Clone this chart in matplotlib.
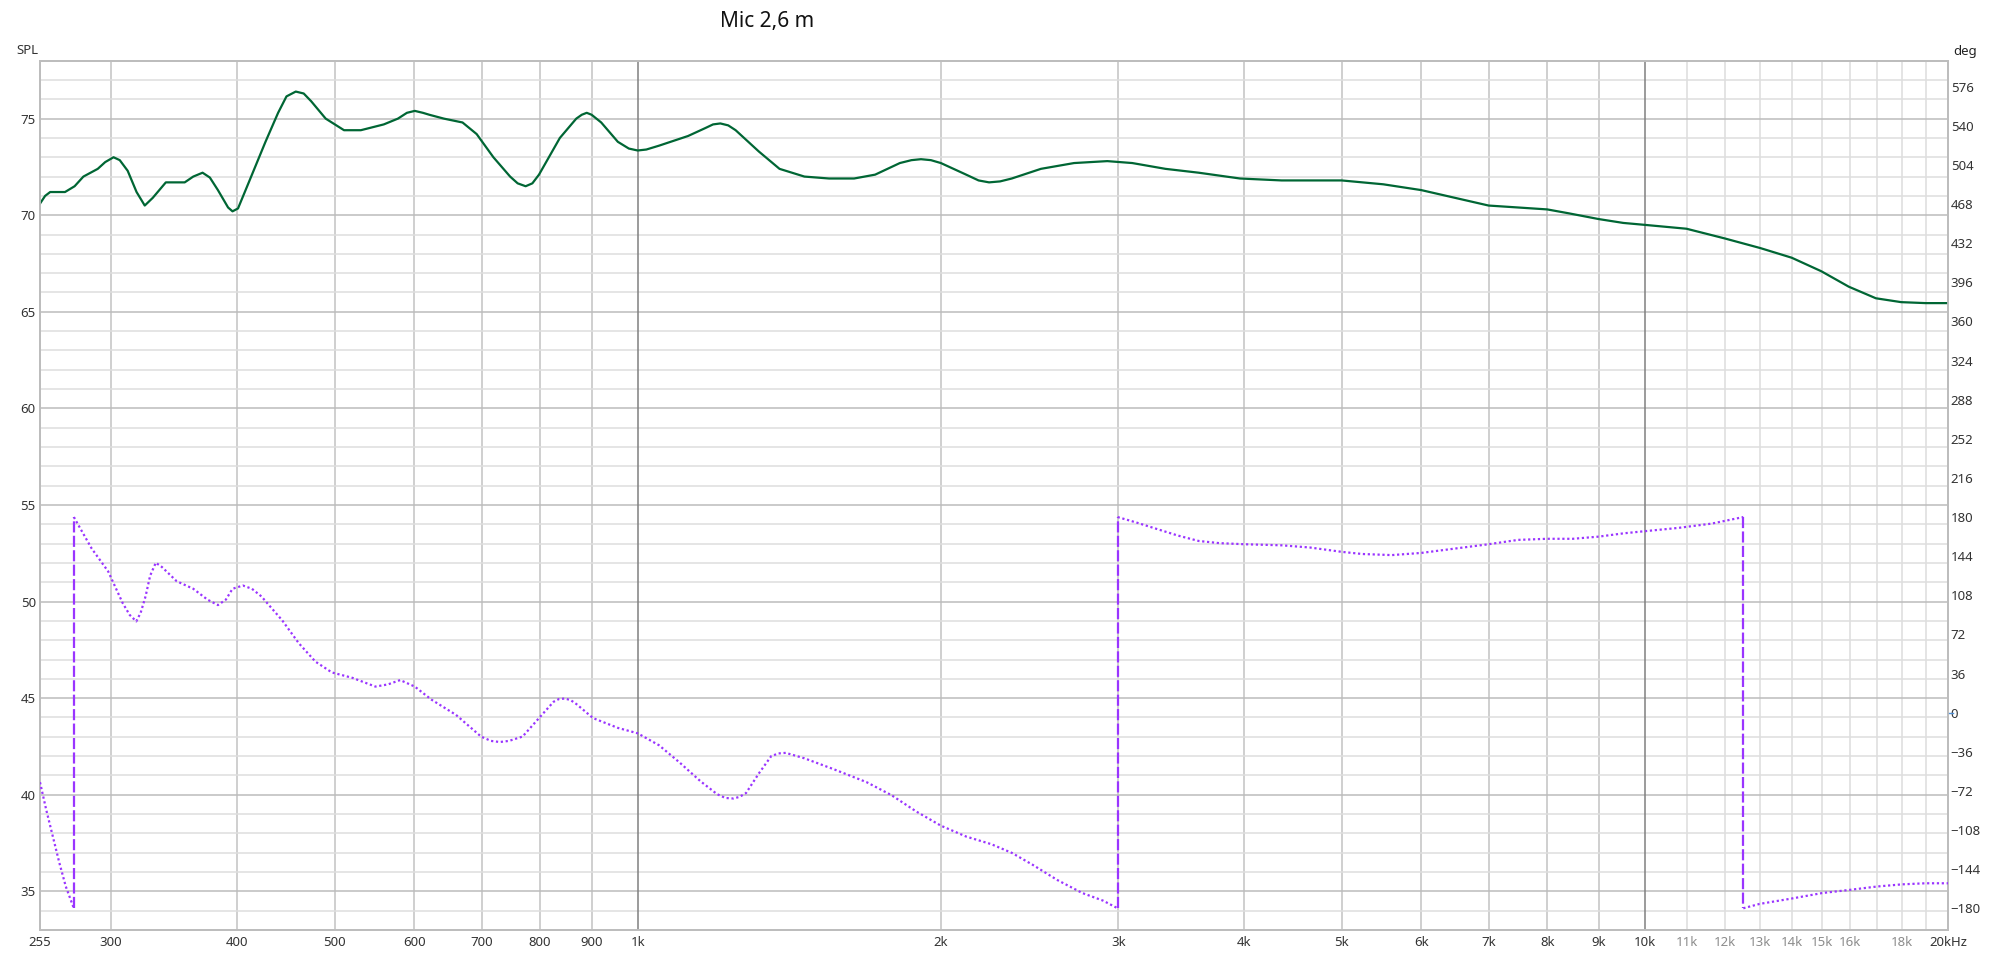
#!/usr/bin/env python3
"""
Mic 2,6 m - SPL and phase response, REW style.
"""

import numpy as np
import matplotlib
matplotlib.use("Agg")
import matplotlib.pyplot as plt
from matplotlib.ticker import MultipleLocator, FixedLocator, NullFormatter
from matplotlib.lines import Line2D
import matplotlib.transforms as mtransforms

# SPL curve (left axis, dB)
spl_freq = [255, 258, 261, 270, 276, 281.6, 291, 296, 301.7, 306, 311.6,
            318, 324, 330, 340, 345, 355, 362, 369.8, 376, 383, 392, 396,
            401, 411, 427, 439.5, 448, 457.6, 466, 474, 490,
            511, 531, 559.6, 578, 590, 600.7, 612, 621, 642, 670, 692, 719,
            747, 760, 774, 786, 798, 837, 869, 880, 890, 900, 920, 955.6,
            980, 1000, 1020, 1050,
            1122, 1166, 1188, 1208, 1230, 1251, 1319, 1383, 1464, 1549, 1640,
            1721, 1821, 1870, 1911, 1955, 2000, 2119, 2180, 2233, 2290, 2352,
            2514, 2712, 2926, 3098,
            3342, 3606, 3964, 4359, 4649, 5000, 5499, 5998, 6478, 6997,
            7484, 8000, 8400, 9000, 9521, 10000, 11000, 12000, 13020, 13990,
            14970, 15940, 16960, 17970, 19000, 20000]
spl_db = [70.6, 71.0, 71.2, 71.2, 71.5, 72.0, 72.4, 72.75, 73.0, 72.85, 72.3,
          71.2, 70.5, 70.9, 71.7, 71.7, 71.7, 72.0, 72.2, 71.95, 71.3, 70.4, 70.2,
          70.35, 71.7, 73.8, 75.3, 76.15, 76.4, 76.3, 75.9, 75.0,
          74.4, 74.4, 74.7, 75.0, 75.3, 75.4, 75.3, 75.2, 75.0, 74.8, 74.2, 73.0,
          72.0, 71.65, 71.5, 71.65, 72.1, 74.0, 75.0, 75.2, 75.3, 75.2, 74.8, 73.8,
          73.45, 73.35, 73.4, 73.6,
          74.1, 74.5, 74.7, 74.75, 74.65, 74.4, 73.3, 72.4, 72.0, 71.9, 71.9,
          72.1, 72.7, 72.85, 72.9, 72.85, 72.7, 72.1, 71.8, 71.7, 71.75, 71.9,
          72.4, 72.7, 72.8, 72.7,
          72.4, 72.2, 71.9, 71.8, 71.8, 71.8, 71.6, 71.3, 70.9, 70.5,
          70.4, 70.3, 70.1, 69.8, 69.6, 69.5, 69.3, 68.8, 68.3, 67.8,
          67.1, 66.3, 65.7, 65.5, 65.45, 65.45]

# phase curve (right axis, deg), wrapped at +/-180
phase_freq = [255, 258.6, 262.6, 266.5, 270.5, 275.5,
              275.5, 287, 298, 308, 313, 317.8, 321, 324.6, 328, 332.3, 337,
              348.5, 362, 374, 383, 390, 396, 405.5, 414, 423, 443.6, 460.7,
              478.6, 497, 521, 549, 565, 581, 600.7, 624, 660, 699, 715,
              729.6, 745, 768.6, 798, 825, 835, 846.8, 858, 869, 903, 955.6,
              1000, 1050, 1101, 1154, 1199, 1222, 1245, 1262, 1281, 1319,
              1357, 1380, 1403, 1464, 1565, 1688, 1787, 1891, 2000, 2119,
              2244, 2352, 2467, 2610, 2764, 2898, 2996,
              2996, 3127, 3278, 3438, 3606, 3781, 4003, 4359, 4649, 5000,
              5242, 5607, 5998, 6478, 6997, 7484, 8000, 8483, 9000, 9521,
              10000, 10790, 11655, 12525,
              12525, 13000, 14000, 15000, 16000, 17000, 18000, 19000, 20000]
phase_deg = [-64, -89, -114, -138, -160, -180,
             180, 151, 130, 101, 90, 84, 92, 107, 126, 138, 134,
             121, 114, 104, 99, 104, 114, 117, 114, 107, 85, 64,
             47, 37, 32, 24, 26, 30, 24, 12, -2, -22, -26,
             -27, -26, -22, -5, 10, 12.5, 13, 11.5, 8, -5, -14,
             -19, -30, -46, -63, -75, -78.5, -79, -77.5, -74, -56,
             -40, -37.5, -37, -42, -52, -64, -76, -91, -104, -114,
             -121, -129, -140, -154, -166, -173, -180,
             180, 175, 169, 163, 158, 156, 155, 154, 152, 148,
             146, 145, 147, 151, 155, 159, 160, 160, 162, 165,
             167, 170, 174, 180,
             -180, -176, -171, -166, -163, -160, -158, -157, -157]

# x axis labels and grid
xtick_pos = [255, 300, 400, 500, 600, 700, 800, 900, 1000, 2000, 3000, 4000,
             5000, 6000, 7000, 8000, 9000, 10000, 11000, 12000, 13000, 14000,
             15000, 16000, 18000, 20000]
xtick_lab = ["255", "300", "400", "500", "600", "700", "800", "900", "1k",
             "2k", "3k", "4k", "5k", "6k", "7k", "8k", "9k", "10k", "11k",
             "12k", "13k", "14k", "15k", "16k", "18k", "20kHz"]
xgrid_main = [300, 400, 500, 600, 700, 800, 900, 2000, 3000, 4000, 5000,
              6000, 7000, 8000, 9000]
xgrid_dark = [1000, 10000]
xgrid_light = [11000, 12000, 13000, 14000, 15000, 16000, 17000, 18000, 19000]

spl_ticks = [35, 40, 45, 50, 55, 60, 65, 70, 75]
deg_ticks = list(range(-180, 577, 36))

GREEN = "#006634"
PURPLE = "#9a35ff"
TXT = "#333333"
LBL_FONT = ["Liberation Sans Narrow", "Noto Sans", "DejaVu Sans"]


def main():
    fig = plt.figure(figsize=(20, 9.55), dpi=100)
    ax = fig.add_axes([0.02, 0.02618, 0.954, 0.9103])
    ax.set_xscale("log")
    ax.set_xlim(255, 20000)
    ax.set_ylim(33, 78)

    # grid
    ax.yaxis.set_major_locator(FixedLocator(spl_ticks))
    ax.yaxis.set_minor_locator(MultipleLocator(1))
    ax.yaxis.set_minor_formatter(NullFormatter())
    ax.grid(which="major", axis="y", color="#bcbcbc", lw=1.1, zorder=0)
    ax.grid(which="minor", axis="y", color="#dedede", lw=1.1, zorder=0)
    for f in xgrid_main:
        ax.axvline(f, color="#c2c2c2", lw=1.1, zorder=0.5)
    for f in xgrid_light:
        ax.axvline(f, color="#dcdcdc", lw=1.1, zorder=0.5)
    for f in xgrid_dark:
        ax.axvline(f, color="#808080", lw=1.1, zorder=0.6)
    ax.set_axisbelow(True)

    ax.xaxis.set_major_locator(FixedLocator(xtick_pos))
    ax.xaxis.set_minor_locator(FixedLocator([]))
    ax.set_xticklabels(xtick_lab)
    ax.tick_params(axis="both", which="both", length=0, labelsize=9.5,
                   labelcolor=TXT)
    ax.tick_params(axis="x", pad=4)
    ax.tick_params(axis="y", pad=3)
    for lab in ax.get_xticklabels():
        lab.set_family(LBL_FONT)
        if lab.get_text() in ("11k", "12k", "13k", "14k", "15k", "16k", "18k"):
            lab.set_color("#8c8c8c")
    for lab in ax.get_yticklabels():
        lab.set_family(LBL_FONT)

    # SPL
    ax.plot(spl_freq, spl_db, color=GREEN, lw=1.6, zorder=3,
            solid_joinstyle="round")

    # phase on the right axis
    ax2 = ax.twinx()
    ax2.set_ylim(-200, 600)
    ax2.yaxis.set_major_locator(FixedLocator(deg_ticks))
    ax2.tick_params(axis="y", length=0, labelsize=9.5, labelcolor=TXT, pad=2)
    for lab in ax2.get_yticklabels():
        lab.set_family(LBL_FONT)

    pf = np.array(phase_freq, dtype=float)
    pd_ = np.array(phase_deg, dtype=float)
    breaks = np.where(np.abs(np.diff(pd_)) > 300)[0] + 1
    start = 0
    for b in list(breaks) + [len(pf)]:
        ax2.plot(pf[start:b], pd_[start:b], color=PURPLE, lw=1.6,
                 linestyle=(0, (1, 1.2)), zorder=3)
        if b < len(pf):
            ax2.plot([pf[b - 1], pf[b]], [pd_[b - 1], pd_[b]], color=PURPLE,
                     lw=1.6, linestyle=(0, (5, 1.5)), zorder=3)
        start = b

    # small blue tick at 0 deg
    trans = mtransforms.blended_transform_factory(ax2.transAxes, ax2.transData)
    ax2.add_line(Line2D([1.0, 1.0025], [0, 0], transform=trans,
                        color="#4f8fd6", lw=1, clip_on=False))

    for a in (ax, ax2):
        for s in a.spines.values():
            s.set_color("#bdbdbd")
            s.set_linewidth(1.3)

    fig.text(16 / 2000, 1 - 51 / 955, "SPL", fontsize=9.5, color=TXT,
             va="center", ha="left", family=LBL_FONT)
    fig.text(1953 / 2000, 1 - 51 / 955, "deg", fontsize=9.5, color="#222222",
             va="center", ha="left", weight="bold", family=LBL_FONT)
    fig.text(767 / 2000, 1 - 22 / 955, "Mic 2,6 m", fontsize=15,
             color="#111111", va="center", ha="center",
             family=["Noto Sans", "DejaVu Sans"])

    fig.savefig("out.png", dpi=100)
    plt.close(fig)


if __name__ == "__main__":
    main()
